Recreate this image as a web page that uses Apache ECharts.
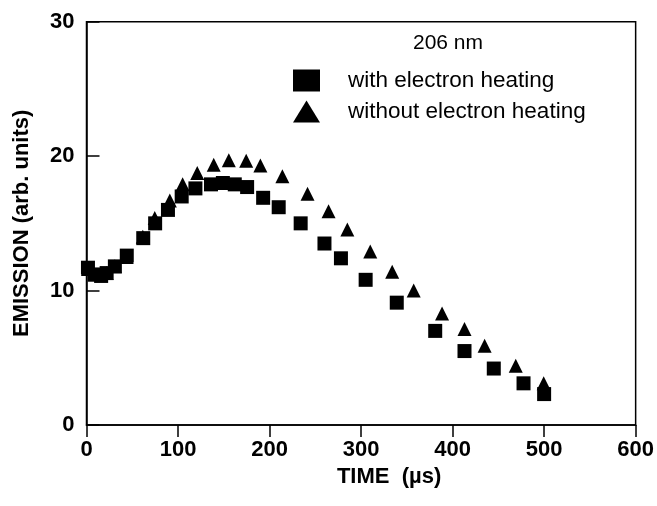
<!DOCTYPE html>
<html>
<head>
<meta charset="utf-8">
<script src="https://cdn.jsdelivr.net/npm/echarts@6/dist/echarts.min.js"></script>
<style>
html,body{margin:0;padding:0;background:#fff;}
#chart{width:657px;height:506px;}
</style>
</head>
<body>
<div id="chart"></div>
<script>
// Data
var seriesNames = ['with electron heating', 'without electron heating'];
var timeWith = [1.6, 9, 16, 22, 31, 44, 62, 75, 89, 104, 119, 136, 149, 162, 175.5, 193, 210, 234, 260, 278, 305, 339, 381, 413, 445, 477.5, 500];
var emissionWith = [11.7, 11.2, 11.1, 11.3, 11.8, 12.6, 13.9, 15.0, 16.0, 17.0, 17.6, 17.9, 18.0, 17.9, 17.7, 16.9, 16.2, 15.0, 13.5, 12.4, 10.8, 9.1, 7.0, 5.5, 4.2, 3.1, 2.3];
var timeWithout = [1.6, 9, 16, 22, 31, 44, 61.5, 74.6, 91, 105, 121, 139, 155.5, 174.5, 190, 214, 241.5, 264.5, 285, 310, 334, 357.5, 388.5, 413, 435, 469, 499.5];
var emissionWithout = [11.6, 11.2, 11.1, 11.3, 11.8, 12.5, 14.0, 15.4, 16.7, 17.9, 18.75, 19.35, 19.7, 19.65, 19.3, 18.5, 17.2, 15.9, 14.55, 12.9, 11.4, 10.0, 8.3, 7.15, 5.9, 4.4, 3.1];
var xTicks = [0, 100, 200, 300, 400, 500, 600];
var yTicks = [0, 10, 20, 30];
var titleText = '206 nm';
var xName = 'TIME  (\u00b5s)';
var yName = 'EMISSION (arb. units)';

function pairs(xs, ys) {
  var out = [];
  for (var i = 0; i < xs.length; i++) out.push([xs[i], ys[i]]);
  return out;
}

var chart = echarts.init(document.getElementById('chart'), null, {renderer: 'canvas'});
var font = 'Liberation Sans, Arial, Helvetica, sans-serif';
chart.setOption({
  backgroundColor: '#fff',
  animation: false,
  textStyle: {fontFamily: font, color: '#000'},
  title: {
    text: titleText,
    left: 408,
    top: 28,
    textStyle: {fontFamily: font, fontSize: 21, fontWeight: 'normal', color: '#000'}
  },
  legend: {
    orient: 'vertical',
    left: 288,
    top: 64,
    itemWidth: 27,
    itemHeight: 22,
    itemGap: 8,
    symbolKeepAspect: false,
    itemStyle: {opacity: 1},
    data: [
      {name: seriesNames[0], icon: 'rect'},
      {name: seriesNames[1], icon: 'triangle'}
    ],
    textStyle: {fontFamily: font, fontSize: 22.5, color: '#000', padding: [0, 0, 0, 23]}
  },
  grid: {
    left: 86.5, right: 19.5, top: 21.7, bottom: 81,
    show: true, borderColor: '#000', borderWidth: 1.5, backgroundColor: 'transparent'
  },
  xAxis: {
    type: 'value',
    min: xTicks[0], max: xTicks[xTicks.length - 1], interval: 100,
    name: xName,
    nameLocation: 'middle',
    nameGap: 40,
    nameTextStyle: {fontFamily: font, fontSize: 22, fontWeight: 'bold', color: '#000', padding: [0, 0, 0, 56]},
    axisLine: {show: true, onZero: false, lineStyle: {color: '#000', width: 1.5}},
    axisTick: {show: true, inside: false, length: 12, lineStyle: {color: '#000', width: 1.5}},
    axisLabel: {fontFamily: font, fontSize: 22, fontWeight: 'bold', color: '#000', margin: 14},
    splitLine: {show: false}
  },
  yAxis: {
    type: 'value',
    min: yTicks[0], max: yTicks[yTicks.length - 1], interval: 10,
    name: yName,
    nameLocation: 'middle',
    nameGap: 54,
    nameTextStyle: {fontFamily: font, fontSize: 22, fontWeight: 'bold', color: '#000'},
    axisLine: {show: true, onZero: false, lineStyle: {color: '#000', width: 1.5}},
    axisTick: {show: true, inside: true, length: 13, lineStyle: {color: '#000', width: 1.5}},
    axisLabel: {fontFamily: font, fontSize: 22, fontWeight: 'bold', color: '#000', margin: 12},
    splitLine: {show: false}
  },
  series: [
    {
      name: seriesNames[1],
      type: 'scatter',
      symbol: 'triangle',
      symbolSize: [14, 14],
      itemStyle: {color: '#000', opacity: 1},
      z: 2,
      data: pairs(timeWithout, emissionWithout)
    },
    {
      name: seriesNames[0],
      type: 'scatter',
      symbol: 'rect',
      symbolSize: [14, 14],
      itemStyle: {color: '#000', opacity: 1},
      z: 3,
      data: pairs(timeWith, emissionWith)
    }
  ]
});
</script>
</body>
</html>
